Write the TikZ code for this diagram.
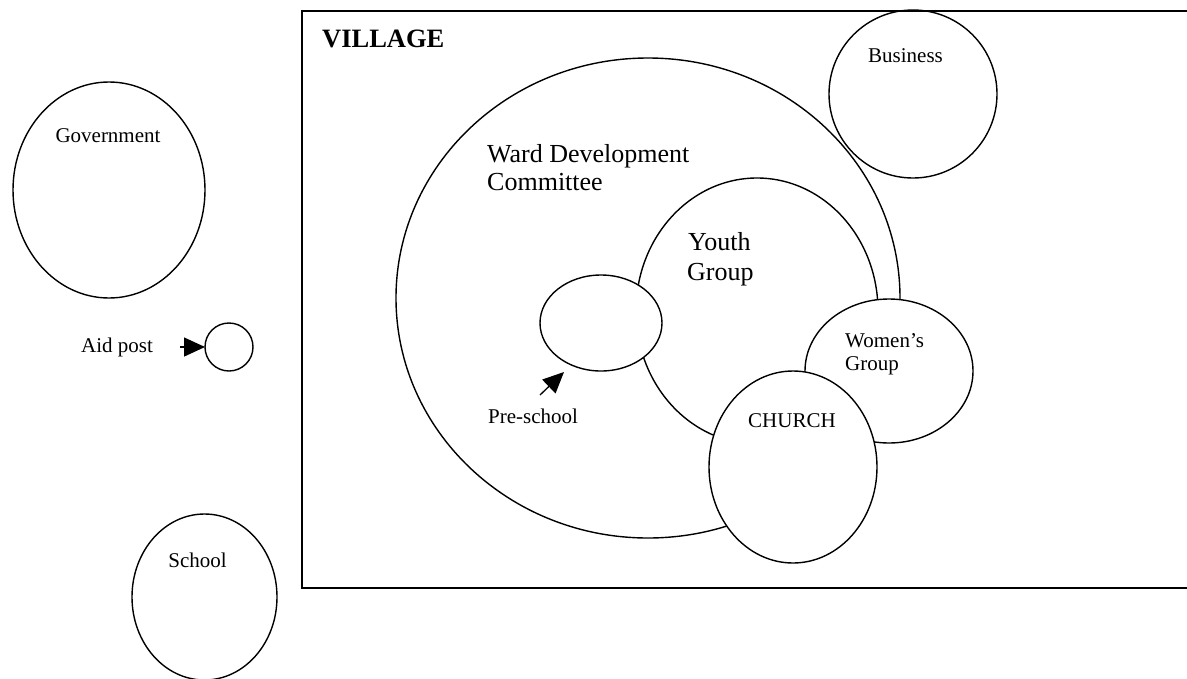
\documentclass[tikz,border=0pt]{standalone}
\usepackage{fontspec}
\setmainfont{Liberation Serif}
\usetikzlibrary{shapes.geometric,arrows.meta}
\begin{document}
\begin{tikzpicture}[x=1pt,y=-1pt,
  blob/.style={ellipse, draw, line width=1.4pt, inner sep=0pt, outer sep=0pt},
  wblob/.style={blob, fill=white},
  lbl/.style={inner sep=0pt, font=\fontsize{21}{23}\selectfont},
  big/.style={inner sep=0pt, font=\fontsize{26}{28}\selectfont},
  bigbold/.style={inner sep=0pt, font=\bfseries\fontsize{26.5}{28}\selectfont},
  arr/.style={line width=1.3pt, -{Triangle[length=21pt,width=19pt]}}]
\clip (0,0) rectangle (1187,678);
\fill[white] (0,0) rectangle (1187,678);
% village frame
\node[draw, line width=2pt, inner sep=0pt, minimum width=920pt, minimum height=577pt, anchor=north west] (village) at (301,10) {};
% outside circles
\node[blob, minimum width=192pt, minimum height=216pt] (gov) at (109,190) {};
\node[blob, minimum width=48pt, minimum height=48pt] (aid) at (229,347) {};
\node[blob, minimum width=145pt, minimum height=166pt] (school) at (204.5,597) {};
% inside village
\node[blob, minimum width=504pt, minimum height=480pt] (wdc) at (648,298) {};
\node[blob, minimum width=168pt, minimum height=168pt] (business) at (913,94) {};
\node[blob, minimum width=242pt, minimum height=266pt] (youth) at (757,311) {};
\node[wblob, minimum width=122pt, minimum height=96pt] (pre) at (601,323) {};
\node[wblob, minimum width=168pt, minimum height=144pt] (women) at (889,371) {};
\node[wblob, minimum width=168pt, minimum height=192pt] (church) at (793,467) {};
% labels
\node[bigbold, anchor=base west] (villagelbl) at (322,47) {VILLAGE};
\node[lbl, anchor=base] (govlbl) at (108,142) {Government};
\node[lbl, anchor=base west] (aidlbl) at (81,352) {Aid post};
\node[lbl, anchor=base] (schoollbl) at (197.5,567) {School};
\node[lbl, anchor=base] (businesslbl) at (905.5,62) {Business};
\node[big, anchor=base west] (wdclbla) at (487,162) {Ward Development};
\node[big, anchor=base west] (wdclblb) at (487,190) {Committee};
\node[big, anchor=base west] (youthlbla) at (688,250) {Youth};
\node[big, anchor=base west] (youthlblb) at (687,280) {Group};
\node[lbl, anchor=base west] (womenlbla) at (845,347) {Women’s};
\node[lbl, anchor=base west] (womenlblb) at (845,370) {Group};
\node[lbl, anchor=base west] (churchlbl) at (748,427) {CHURCH};
\node[lbl, anchor=base west] (prelbl) at (488,423) {Pre-school};
% arrows
\coordinate (aidtail) at (180,347);
\draw[arr] (aidtail) -- (aid.west);
\coordinate (pretail) at (540,395);
\coordinate (pretip) at (564,372);
\draw[arr] (pretail) -- (pretip);
\end{tikzpicture}
\end{document}
